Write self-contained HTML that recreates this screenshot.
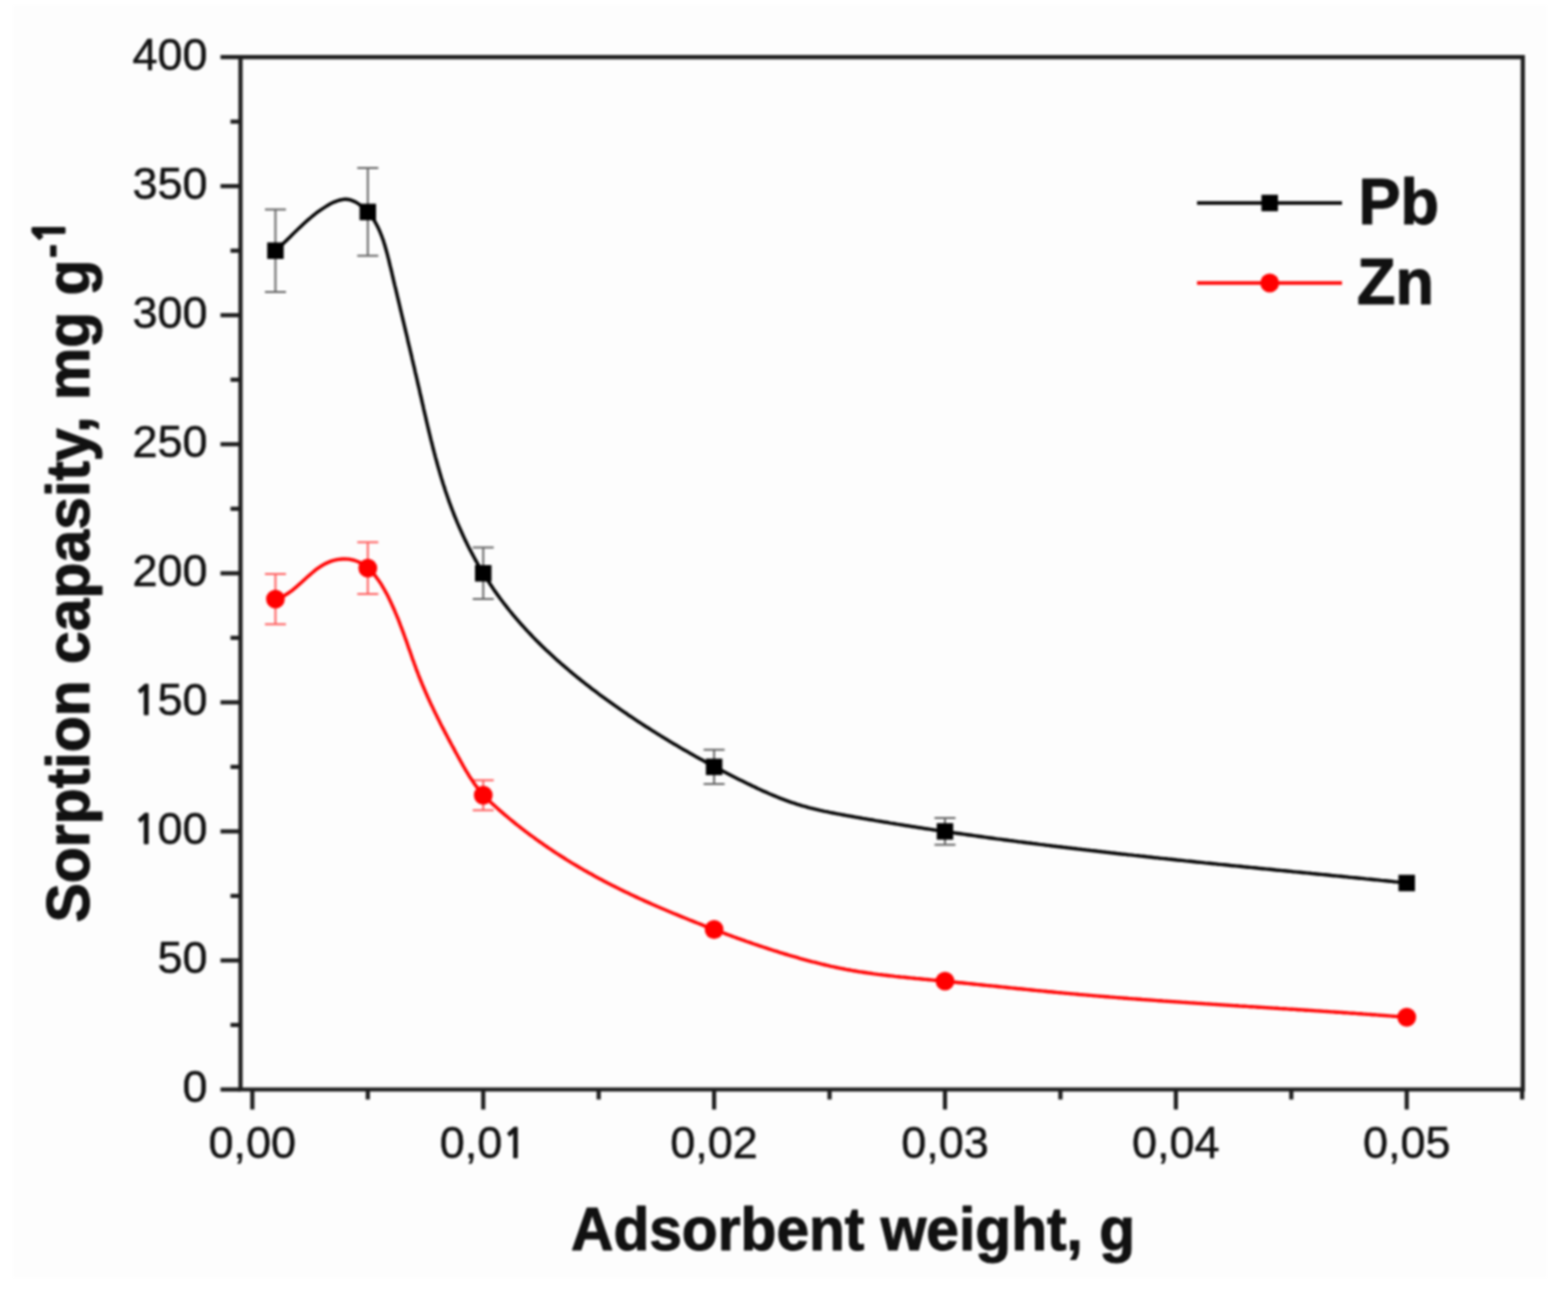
<!DOCTYPE html><html><head><meta charset="utf-8"><style>
html,body{margin:0;padding:0;background:#fff;}
svg{display:block;}
text{font-family:"Liberation Sans",Arial,sans-serif;}
</style></head><body>
<svg width="1568" height="1304" viewBox="0 0 1568 1304">
<defs><filter id="soft" x="0" y="0" width="1568" height="1304" filterUnits="userSpaceOnUse" color-interpolation-filters="sRGB"><feGaussianBlur stdDeviation="1.0"/></filter></defs>
<rect x="0" y="0" width="1568" height="1304" fill="#ffffff"/>
<g filter="url(#soft)">
<rect x="13" y="5" width="1534" height="1273" fill="#fdfdfd"/>
<g stroke="#1e1e1e" stroke-width="4.2" fill="none" stroke-linecap="butt">
<path d="M240.50,57.10 H1522.80 V1089.50 H240.50 Z" stroke-linejoin="miter"/>
<path d="M240.50,1089.50 H220.50"/>
<path d="M240.50,1024.97 H230.50"/>
<path d="M240.50,960.45 H220.50"/>
<path d="M240.50,895.92 H230.50"/>
<path d="M240.50,831.40 H220.50"/>
<path d="M240.50,766.88 H230.50"/>
<path d="M240.50,702.35 H220.50"/>
<path d="M240.50,637.83 H230.50"/>
<path d="M240.50,573.30 H220.50"/>
<path d="M240.50,508.77 H230.50"/>
<path d="M240.50,444.25 H220.50"/>
<path d="M240.50,379.73 H230.50"/>
<path d="M240.50,315.20 H220.50"/>
<path d="M240.50,250.68 H230.50"/>
<path d="M240.50,186.15 H220.50"/>
<path d="M240.50,121.62 H230.50"/>
<path d="M240.50,57.10 H220.50"/>
<path d="M252.36,1089.50 V1109.50"/>
<path d="M367.80,1089.50 V1099.50"/>
<path d="M483.24,1089.50 V1109.50"/>
<path d="M598.68,1089.50 V1099.50"/>
<path d="M714.11,1089.50 V1109.50"/>
<path d="M829.55,1089.50 V1099.50"/>
<path d="M944.99,1089.50 V1109.50"/>
<path d="M1060.43,1089.50 V1099.50"/>
<path d="M1175.87,1089.50 V1109.50"/>
<path d="M1291.31,1089.50 V1099.50"/>
<path d="M1406.74,1089.50 V1109.50"/>
<path d="M1522.18,1089.50 V1099.50"/>
</g>
<g font-size="45" fill="#111" stroke="#111" stroke-width="0.5" stroke-linejoin="round">
<text x="207.50" y="1102.30" text-anchor="end">0</text>
<text x="207.50" y="973.25" text-anchor="end">50</text>
<text x="207.50" y="844.20" text-anchor="end"><tspan font-family="NanumGothic, Liberation Sans, sans-serif" font-weight="700" font-size="40.5">1</tspan>00</text>
<text x="207.50" y="715.15" text-anchor="end"><tspan font-family="NanumGothic, Liberation Sans, sans-serif" font-weight="700" font-size="40.5">1</tspan>50</text>
<text x="207.50" y="586.10" text-anchor="end">200</text>
<text x="207.50" y="457.05" text-anchor="end">250</text>
<text x="207.50" y="328.00" text-anchor="end">300</text>
<text x="207.50" y="198.95" text-anchor="end">350</text>
<text x="207.50" y="69.90" text-anchor="end">400</text>
<text x="252.36" y="1158.00" text-anchor="middle">0,00</text>
<text x="483.24" y="1158.00" text-anchor="middle">0,0<tspan font-family="NanumGothic, Liberation Sans, sans-serif" font-weight="700" font-size="40.5">1</tspan></text>
<text x="714.11" y="1158.00" text-anchor="middle">0,02</text>
<text x="944.99" y="1158.00" text-anchor="middle">0,03</text>
<text x="1175.87" y="1158.00" text-anchor="middle">0,04</text>
<text x="1406.74" y="1158.00" text-anchor="middle">0,05</text>
</g>
<text transform="translate(571.00,1250.00) scale(1,1.04)" font-size="58" font-weight="bold" fill="#111" stroke="#111" stroke-width="1.0" stroke-linejoin="round" textLength="564" lengthAdjust="spacingAndGlyphs">Adsorbent weight, g</text>
<text transform="translate(89.00,922.40) rotate(-90) scale(1,1.04)" font-size="58" font-weight="bold" fill="#111" stroke="#111" stroke-width="1.0" stroke-linejoin="round" textLength="663" lengthAdjust="spacingAndGlyphs">Sorption capasity, mg g</text>
<text transform="translate(65.00,258.00) rotate(-90) scale(1,1.04)" font-size="42" font-weight="bold" fill="#111" stroke="#111" stroke-width="1.0" stroke-linejoin="round">-<tspan font-family="NanumGothic, Liberation Sans, sans-serif" font-weight="800" dx="0">1</tspan></text>
<path d="M275.45,209.38 V291.97 M264.95,209.38 H285.95 M264.95,291.97 H285.95 M367.80,168.08 V255.84 M357.30,168.08 H378.30 M357.30,255.84 H378.30 M483.24,547.49 V599.11 M472.74,547.49 H493.74 M472.74,599.11 H493.74 M714.11,749.84 V783.91 M703.61,749.84 H724.61 M703.61,783.91 H724.61 M944.99,817.98 V844.82 M934.49,817.98 H955.49 M934.49,844.82 H955.49" stroke="#666" stroke-width="2" fill="none"/>
<path d="M275.45,574.07 V624.15 M264.95,574.07 H285.95 M264.95,624.15 H285.95 M367.80,542.33 V593.95 M357.30,542.33 H378.30 M357.30,593.95 H378.30 M483.24,780.30 V810.24 M472.74,780.30 H493.74 M472.74,810.24 H493.74" stroke="#ff6060" stroke-width="2" fill="none"/>
<path d="M275.4,250.7 L277.0,249.2 L278.6,247.8 L280.2,246.4 L281.7,244.9 L283.3,243.4 L284.8,242.0 L286.4,240.5 L287.9,239.0 L289.5,237.5 L291.0,236.0 L292.5,234.4 L294.1,232.9 L295.6,231.4 L297.2,229.9 L298.7,228.4 L300.3,226.9 L301.9,225.4 L303.4,224.0 L305.1,222.5 L306.7,221.0 L308.3,219.6 L310.0,218.2 L311.7,216.8 L313.4,215.4 L315.1,214.0 L316.8,212.7 L318.6,211.4 L320.4,210.1 L322.3,208.8 L324.2,207.6 L326.1,206.4 L328.0,205.2 L330.0,204.1 L332.0,203.1 L334.0,202.1 L336.1,201.3 L338.1,200.5 L340.2,200.0 L342.2,199.6 L344.3,199.3 L346.3,199.3 L348.3,199.5 L350.3,199.9 L352.2,200.6 L354.1,201.4 L356.0,202.3 L357.8,203.4 L359.5,204.6 L361.2,205.8 L362.8,207.1 L364.3,208.5 L365.8,209.9 L367.3,211.3 L368.6,212.9 L369.9,214.4 L371.2,216.0 L372.4,217.7 L373.5,219.4 L374.6,221.1 L375.6,222.9 L376.6,224.7 L377.6,226.6 L378.5,228.5 L379.4,230.4 L380.2,232.4 L381.0,234.3 L381.8,236.3 L382.5,238.4 L383.3,240.4 L383.9,242.5 L384.6,244.6 L385.2,246.7 L385.8,248.8 L386.4,251.0 L387.0,253.1 L387.6,255.3 L388.1,257.4 L388.7,259.6 L389.2,261.8 L389.7,264.0 L390.2,266.2 L390.8,268.3 L391.3,270.5 L391.8,272.7 L392.3,274.8 L392.8,277.0 L393.3,279.1 L393.8,281.3 L394.3,283.4 L394.8,285.6 L395.4,287.7 L395.9,289.9 L396.4,292.0 L396.9,294.1 L397.4,296.3 L397.9,298.4 L398.4,300.5 L398.9,302.6 L399.4,304.7 L399.9,306.9 L400.4,309.0 L400.9,311.1 L401.4,313.2 L401.9,315.3 L402.4,317.4 L402.9,319.5 L403.4,321.6 L403.9,323.7 L404.4,325.8 L404.9,327.9 L405.4,330.0 L405.9,332.1 L406.4,334.1 L406.9,336.2 L407.4,338.3 L407.8,340.4 L408.3,342.5 L408.8,344.6 L409.3,346.6 L409.8,348.7 L410.3,350.8 L410.8,352.9 L411.3,355.0 L411.8,357.0 L412.2,359.1 L412.7,361.2 L413.2,363.3 L413.7,365.3 L414.2,367.4 L414.7,369.5 L415.1,371.6 L415.6,373.6 L416.1,375.7 L416.6,377.8 L417.1,379.9 L417.5,382.0 L418.0,384.0 L418.5,386.1 L419.0,388.2 L419.5,390.3 L419.9,392.4 L420.4,394.5 L420.9,396.5 L421.4,398.6 L421.8,400.7 L422.3,402.8 L422.8,404.9 L423.3,407.0 L423.7,409.1 L424.2,411.2 L424.7,413.3 L425.2,415.3 L425.7,417.4 L426.1,419.5 L426.6,421.6 L427.1,423.7 L427.6,425.8 L428.1,427.9 L428.6,430.0 L429.1,432.1 L429.6,434.2 L430.1,436.2 L430.6,438.3 L431.1,440.4 L431.7,442.5 L432.2,444.6 L432.7,446.7 L433.2,448.8 L433.8,450.9 L434.3,452.9 L434.9,455.0 L435.4,457.1 L436.0,459.2 L436.6,461.3 L437.1,463.3 L437.7,465.4 L438.3,467.5 L438.9,469.5 L439.5,471.6 L440.1,473.7 L440.7,475.8 L441.3,477.8 L442.0,479.9 L442.6,481.9 L443.2,484.0 L443.9,486.0 L444.6,488.1 L445.2,490.2 L445.9,492.2 L446.6,494.2 L447.3,496.3 L448.0,498.3 L448.7,500.4 L449.4,502.4 L450.2,504.4 L450.9,506.5 L451.7,508.5 L452.5,510.5 L453.2,512.5 L454.0,514.5 L454.8,516.5 L455.7,518.6 L456.5,520.6 L457.3,522.6 L458.2,524.6 L459.0,526.5 L459.9,528.5 L460.8,530.5 L461.7,532.5 L462.6,534.5 L463.5,536.4 L464.4,538.4 L465.3,540.4 L466.3,542.3 L467.2,544.3 L468.2,546.2 L469.2,548.2 L470.2,550.1 L471.2,552.0 L472.2,553.9 L473.2,555.8 L474.3,557.8 L475.3,559.7 L476.4,561.5 L477.4,563.4 L478.5,565.3 L479.6,567.2 L480.7,569.1 L481.8,570.9 L482.9,572.8 L484.1,574.6 L485.2,576.5 L486.4,578.3 L487.5,580.1 L488.7,581.9 L489.9,583.7 L491.1,585.5 L492.3,587.3 L493.5,589.1 L494.7,590.9 L496.0,592.6 L497.2,594.4 L498.5,596.1 L499.8,597.9 L501.0,599.6 L502.3,601.3 L503.6,603.0 L504.9,604.7 L506.3,606.4 L507.6,608.1 L508.9,609.8 L510.3,611.5 L511.7,613.1 L513.0,614.8 L514.4,616.4 L515.8,618.1 L517.2,619.7 L518.6,621.3 L520.0,622.9 L521.4,624.5 L522.9,626.1 L524.3,627.7 L525.8,629.3 L527.2,630.9 L528.7,632.4 L530.2,634.0 L531.6,635.5 L533.1,637.1 L534.6,638.6 L536.1,640.2 L537.7,641.7 L539.2,643.2 L540.7,644.7 L542.2,646.2 L543.8,647.7 L545.3,649.2 L546.9,650.7 L548.5,652.1 L550.0,653.6 L551.6,655.1 L553.2,656.5 L554.8,658.0 L556.4,659.4 L558.0,660.9 L559.6,662.3 L561.2,663.7 L562.9,665.1 L564.5,666.5 L566.1,667.9 L567.8,669.3 L569.4,670.7 L571.1,672.1 L572.7,673.5 L574.4,674.9 L576.1,676.2 L577.7,677.6 L579.4,678.9 L581.1,680.3 L582.8,681.6 L584.5,683.0 L586.2,684.3 L587.9,685.6 L589.6,686.9 L591.3,688.3 L593.0,689.6 L594.8,690.9 L596.5,692.2 L598.2,693.5 L599.9,694.8 L601.7,696.1 L603.4,697.3 L605.2,698.6 L606.9,699.9 L608.7,701.1 L610.4,702.4 L612.2,703.7 L613.9,704.9 L615.7,706.2 L617.5,707.4 L619.2,708.6 L621.0,709.9 L622.8,711.1 L624.6,712.3 L626.4,713.5 L628.1,714.8 L629.9,716.0 L631.7,717.2 L633.5,718.4 L635.3,719.6 L637.1,720.8 L638.9,722.0 L640.7,723.1 L642.5,724.3 L644.3,725.5 L646.1,726.7 L648.0,727.8 L649.8,729.0 L651.6,730.1 L653.4,731.3 L655.2,732.4 L657.1,733.6 L658.9,734.7 L660.7,735.9 L662.6,737.0 L664.4,738.1 L666.3,739.3 L668.1,740.4 L669.9,741.5 L671.8,742.6 L673.6,743.7 L675.5,744.8 L677.4,745.9 L679.2,747.0 L681.1,748.1 L682.9,749.2 L684.8,750.3 L686.7,751.3 L688.6,752.4 L690.4,753.5 L692.3,754.5 L694.2,755.6 L696.1,756.7 L698.0,757.7 L699.8,758.8 L701.7,759.8 L703.6,760.8 L705.5,761.9 L707.4,762.9 L709.3,763.9 L711.2,765.0 L713.1,766.0 L715.0,767.0 L716.9,768.0 L718.8,769.0 L720.7,770.0 L722.6,771.0 L724.6,772.0 L726.5,773.0 L728.4,774.0 L730.3,775.0 L732.2,776.0 L734.2,777.0 L736.1,777.9 L738.0,778.9 L740.0,779.9 L741.9,780.8 L743.8,781.8 L745.8,782.8 L747.7,783.7 L749.7,784.6 L751.6,785.6 L753.6,786.5 L755.5,787.4 L757.5,788.4 L759.4,789.3 L761.4,790.2 L763.3,791.1 L765.3,791.9 L767.3,792.8 L769.3,793.7 L771.2,794.5 L773.2,795.4 L775.2,796.2 L777.2,797.0 L779.2,797.8 L781.2,798.6 L783.2,799.3 L785.2,800.1 L787.2,800.8 L789.3,801.6 L791.3,802.3 L793.3,803.0 L795.4,803.6 L797.4,804.3 L799.5,804.9 L801.5,805.6 L803.6,806.2 L805.7,806.7 L807.7,807.3 L809.8,807.9 L811.9,808.4 L814.0,808.9 L816.1,809.4 L818.2,809.9 L820.3,810.4 L822.4,810.8 L824.5,811.3 L826.6,811.7 L828.7,812.2 L830.8,812.6 L833.0,813.0 L835.1,813.4 L837.2,813.8 L839.3,814.2 L841.4,814.6 L843.6,815.0 L845.7,815.4 L847.8,815.8 L850.0,816.1 L852.1,816.5 L854.2,816.9 L856.3,817.3 L858.5,817.6 L860.6,818.0 L862.7,818.4 L864.9,818.7 L867.0,819.1 L869.1,819.5 L871.3,819.8 L873.4,820.2 L875.5,820.6 L877.6,820.9 L879.8,821.3 L881.9,821.6 L884.0,822.0 L886.2,822.3 L888.3,822.7 L890.4,823.1 L892.6,823.4 L894.7,823.7 L896.8,824.1 L898.9,824.4 L901.1,824.8 L903.2,825.1 L905.3,825.5 L907.5,825.8 L909.6,826.1 L911.7,826.5 L913.9,826.8 L916.0,827.1 L918.1,827.5 L920.3,827.8 L922.4,828.1 L924.5,828.5 L926.7,828.8 L928.8,829.1 L930.9,829.4 L933.1,829.8 L935.2,830.1 L937.3,830.4 L939.5,830.7 L941.6,831.0 L943.7,831.3 L945.9,831.7 L948.0,832.0 L950.1,832.3 L952.3,832.6 L954.4,832.9 L956.5,833.2 L958.7,833.5 L960.8,833.8 L962.9,834.1 L965.1,834.4 L967.2,834.7 L969.3,835.0 L971.5,835.3 L973.6,835.6 L975.7,835.9 L977.9,836.2 L980.0,836.5 L982.1,836.8 L984.3,837.1 L986.4,837.4 L988.6,837.7 L990.7,838.0 L992.8,838.3 L995.0,838.6 L997.1,838.9 L999.2,839.1 L1001.4,839.4 L1003.5,839.7 L1005.6,840.0 L1007.8,840.3 L1009.9,840.6 L1012.1,840.8 L1014.2,841.1 L1016.3,841.4 L1018.5,841.7 L1020.6,841.9 L1022.8,842.2 L1024.9,842.5 L1027.0,842.8 L1029.2,843.0 L1031.3,843.3 L1033.5,843.6 L1035.6,843.8 L1037.7,844.1 L1039.9,844.4 L1042.0,844.6 L1044.1,844.9 L1046.3,845.2 L1048.4,845.4 L1050.6,845.7 L1052.7,846.0 L1054.9,846.2 L1057.0,846.5 L1059.1,846.7 L1061.3,847.0 L1063.4,847.3 L1065.6,847.5 L1067.7,847.8 L1069.8,848.0 L1072.0,848.3 L1074.1,848.5 L1076.3,848.8 L1078.4,849.1 L1080.6,849.3 L1082.7,849.6 L1084.8,849.8 L1087.0,850.1 L1089.1,850.3 L1091.3,850.6 L1093.4,850.8 L1095.6,851.0 L1097.7,851.3 L1099.8,851.5 L1102.0,851.8 L1104.1,852.0 L1106.3,852.3 L1108.4,852.5 L1110.6,852.8 L1112.7,853.0 L1114.9,853.2 L1117.0,853.5 L1119.1,853.7 L1121.3,854.0 L1123.4,854.2 L1125.6,854.4 L1127.7,854.7 L1129.9,854.9 L1132.0,855.1 L1134.2,855.4 L1136.3,855.6 L1138.4,855.8 L1140.6,856.1 L1142.7,856.3 L1144.9,856.5 L1147.0,856.8 L1149.2,857.0 L1151.3,857.2 L1153.5,857.5 L1155.6,857.7 L1157.8,857.9 L1159.9,858.2 L1162.0,858.4 L1164.2,858.6 L1166.3,858.8 L1168.5,859.1 L1170.6,859.3 L1172.8,859.5 L1174.9,859.7 L1177.1,860.0 L1179.2,860.2 L1181.4,860.4 L1183.5,860.6 L1185.7,860.9 L1187.8,861.1 L1190.0,861.3 L1192.1,861.5 L1194.2,861.7 L1196.4,862.0 L1198.5,862.2 L1200.7,862.4 L1202.8,862.6 L1205.0,862.9 L1207.1,863.1 L1209.3,863.3 L1211.4,863.5 L1213.6,863.7 L1215.7,863.9 L1217.9,864.2 L1220.0,864.4 L1222.2,864.6 L1224.3,864.8 L1226.5,865.0 L1228.6,865.2 L1230.7,865.5 L1232.9,865.7 L1235.0,865.9 L1237.2,866.1 L1239.3,866.3 L1241.5,866.5 L1243.6,866.8 L1245.8,867.0 L1247.9,867.2 L1250.1,867.4 L1252.2,867.6 L1254.4,867.8 L1256.5,868.0 L1258.7,868.3 L1260.8,868.5 L1263.0,868.7 L1265.1,868.9 L1267.3,869.1 L1269.4,869.3 L1271.6,869.5 L1273.7,869.7 L1275.8,870.0 L1278.0,870.2 L1280.1,870.4 L1282.3,870.6 L1284.4,870.8 L1286.6,871.0 L1288.7,871.2 L1290.9,871.4 L1293.0,871.7 L1295.2,871.9 L1297.3,872.1 L1299.5,872.3 L1301.6,872.5 L1303.8,872.7 L1305.9,872.9 L1308.1,873.1 L1310.2,873.3 L1312.3,873.6 L1314.5,873.8 L1316.6,874.0 L1318.8,874.2 L1320.9,874.4 L1323.1,874.6 L1325.2,874.8 L1327.4,875.0 L1329.5,875.2 L1331.7,875.5 L1333.8,875.7 L1336.0,875.9 L1338.1,876.1 L1340.3,876.3 L1342.4,876.5 L1344.5,876.7 L1346.7,876.9 L1348.8,877.2 L1351.0,877.4 L1353.1,877.6 L1355.3,877.8 L1357.4,878.0 L1359.6,878.2 L1361.7,878.4 L1363.9,878.6 L1366.0,878.9 L1368.1,879.1 L1370.3,879.3 L1372.4,879.5 L1374.6,879.7 L1376.7,879.9 L1378.9,880.1 L1381.0,880.4 L1383.2,880.6 L1385.3,880.8 L1387.5,881.0 L1389.6,881.2 L1391.7,881.4 L1393.9,881.7 L1396.0,881.9 L1398.2,882.1 L1400.3,882.3 L1402.5,882.5 L1404.6,882.7 L1406.7,883.0" stroke="#000" stroke-width="3.4" fill="none"/>
<path d="M275.5,599.1 L277.2,598.7 L278.9,598.1 L280.5,597.5 L282.1,596.7 L283.8,595.9 L285.3,595.0 L286.9,594.0 L288.5,593.0 L290.0,591.9 L291.6,590.8 L293.1,589.6 L294.6,588.3 L296.1,587.1 L297.6,585.8 L299.2,584.4 L300.7,583.1 L302.2,581.7 L303.7,580.3 L305.2,578.9 L306.7,577.6 L308.2,576.2 L309.8,574.9 L311.3,573.5 L312.9,572.2 L314.4,570.9 L316.0,569.7 L317.6,568.5 L319.2,567.4 L320.9,566.3 L322.5,565.3 L324.2,564.3 L325.9,563.4 L327.7,562.6 L329.4,561.9 L331.2,561.2 L333.0,560.6 L334.8,560.1 L336.7,559.7 L338.5,559.4 L340.3,559.2 L342.2,559.0 L344.0,559.0 L345.8,559.0 L347.6,559.1 L349.4,559.3 L351.1,559.6 L352.8,560.0 L354.5,560.4 L356.1,561.0 L357.8,561.6 L359.3,562.3 L360.9,563.1 L362.4,564.0 L363.9,565.0 L365.3,566.0 L366.7,567.1 L368.1,568.2 L369.4,569.5 L370.7,570.7 L372.0,572.1 L373.3,573.5 L374.5,574.9 L375.7,576.4 L376.8,577.9 L378.0,579.5 L379.1,581.1 L380.2,582.7 L381.3,584.4 L382.3,586.1 L383.3,587.8 L384.3,589.5 L385.3,591.3 L386.3,593.1 L387.2,594.8 L388.1,596.6 L389.0,598.4 L389.9,600.3 L390.7,602.1 L391.6,603.9 L392.4,605.7 L393.2,607.5 L394.0,609.3 L394.8,611.1 L395.5,612.9 L396.3,614.6 L397.0,616.4 L397.8,618.2 L398.5,620.0 L399.2,621.8 L399.9,623.6 L400.5,625.3 L401.2,627.1 L401.9,628.9 L402.5,630.7 L403.2,632.4 L403.8,634.2 L404.5,636.0 L405.1,637.7 L405.7,639.5 L406.4,641.2 L407.0,643.0 L407.6,644.8 L408.2,646.5 L408.8,648.3 L409.5,650.0 L410.1,651.8 L410.7,653.5 L411.3,655.3 L411.9,657.0 L412.5,658.8 L413.2,660.5 L413.8,662.3 L414.4,664.0 L415.1,665.8 L415.7,667.5 L416.3,669.3 L417.0,671.0 L417.7,672.8 L418.3,674.5 L419.0,676.3 L419.7,678.0 L420.4,679.8 L421.1,681.5 L421.8,683.2 L422.5,685.0 L423.3,686.7 L424.0,688.5 L424.8,690.2 L425.5,692.0 L426.3,693.7 L427.1,695.5 L427.8,697.2 L428.6,698.9 L429.4,700.7 L430.2,702.4 L431.0,704.2 L431.9,705.9 L432.7,707.6 L433.5,709.4 L434.3,711.1 L435.2,712.9 L436.0,714.6 L436.9,716.3 L437.7,718.1 L438.6,719.8 L439.5,721.5 L440.3,723.2 L441.2,725.0 L442.1,726.7 L443.0,728.4 L443.9,730.1 L444.8,731.9 L445.7,733.6 L446.6,735.3 L447.5,737.0 L448.4,738.7 L449.3,740.4 L450.2,742.1 L451.1,743.8 L452.0,745.5 L453.0,747.2 L453.9,748.9 L454.8,750.6 L455.7,752.3 L456.7,754.0 L457.6,755.7 L458.5,757.4 L459.5,759.1 L460.4,760.8 L461.3,762.5 L462.3,764.1 L463.2,765.8 L464.2,767.5 L465.1,769.1 L466.1,770.8 L467.1,772.4 L468.0,774.0 L469.0,775.6 L470.0,777.3 L471.1,778.8 L472.1,780.4 L473.2,782.0 L474.2,783.5 L475.3,785.1 L476.5,786.6 L477.6,788.1 L478.8,789.6 L480.0,791.0 L481.2,792.5 L482.4,793.9 L483.7,795.3 L485.0,796.6 L486.3,798.0 L487.6,799.3 L489.0,800.6 L490.4,801.9 L491.8,803.2 L493.2,804.5 L494.6,805.8 L496.0,807.1 L497.4,808.3 L498.8,809.6 L500.3,810.8 L501.7,812.1 L503.2,813.3 L504.6,814.6 L506.1,815.8 L507.5,817.0 L509.0,818.3 L510.5,819.5 L511.9,820.7 L513.4,821.9 L514.9,823.1 L516.4,824.3 L517.9,825.5 L519.4,826.6 L520.9,827.8 L522.4,829.0 L523.9,830.2 L525.4,831.3 L527.0,832.5 L528.5,833.6 L530.0,834.8 L531.6,835.9 L533.1,837.0 L534.7,838.2 L536.2,839.3 L537.8,840.4 L539.3,841.5 L540.9,842.6 L542.5,843.7 L544.0,844.8 L545.6,845.9 L547.2,847.0 L548.8,848.1 L550.4,849.1 L551.9,850.2 L553.5,851.3 L555.1,852.3 L556.7,853.4 L558.3,854.4 L560.0,855.5 L561.6,856.5 L563.2,857.5 L564.8,858.5 L566.4,859.6 L568.1,860.6 L569.7,861.6 L571.3,862.6 L573.0,863.6 L574.6,864.6 L576.2,865.5 L577.9,866.5 L579.5,867.5 L581.2,868.4 L582.8,869.4 L584.5,870.4 L586.2,871.3 L587.8,872.3 L589.5,873.2 L591.2,874.1 L592.8,875.0 L594.5,876.0 L596.2,876.9 L597.8,877.8 L599.5,878.7 L601.2,879.6 L602.9,880.5 L604.6,881.4 L606.3,882.3 L608.0,883.2 L609.7,884.0 L611.4,884.9 L613.1,885.8 L614.8,886.6 L616.5,887.5 L618.2,888.3 L619.9,889.2 L621.6,890.0 L623.3,890.9 L625.0,891.7 L626.7,892.5 L628.5,893.3 L630.2,894.2 L631.9,895.0 L633.6,895.8 L635.3,896.6 L637.1,897.4 L638.8,898.2 L640.5,899.0 L642.3,899.8 L644.0,900.6 L645.7,901.4 L647.5,902.1 L649.2,902.9 L651.0,903.7 L652.7,904.5 L654.5,905.2 L656.2,906.0 L657.9,906.8 L659.7,907.5 L661.4,908.3 L663.2,909.0 L665.0,909.8 L666.7,910.5 L668.5,911.3 L670.2,912.0 L672.0,912.7 L673.7,913.5 L675.5,914.2 L677.3,914.9 L679.0,915.6 L680.8,916.4 L682.6,917.1 L684.3,917.8 L686.1,918.5 L687.9,919.2 L689.6,920.0 L691.4,920.7 L693.2,921.4 L695.0,922.1 L696.7,922.8 L698.5,923.5 L700.3,924.2 L702.1,924.9 L703.8,925.6 L705.6,926.3 L707.4,926.9 L709.2,927.6 L711.0,928.3 L712.7,929.0 L714.5,929.7 L716.3,930.4 L718.1,931.0 L719.9,931.7 L721.7,932.4 L723.4,933.0 L725.2,933.7 L727.0,934.4 L728.8,935.0 L730.6,935.7 L732.4,936.3 L734.2,937.0 L736.0,937.6 L737.8,938.3 L739.6,938.9 L741.4,939.6 L743.2,940.2 L745.0,940.8 L746.8,941.5 L748.6,942.1 L750.4,942.7 L752.2,943.4 L754.0,944.0 L755.8,944.6 L757.6,945.2 L759.4,945.8 L761.2,946.4 L763.1,947.0 L764.9,947.6 L766.7,948.2 L768.5,948.8 L770.3,949.4 L772.1,950.0 L774.0,950.6 L775.8,951.1 L777.6,951.7 L779.4,952.3 L781.2,952.8 L783.1,953.4 L784.9,954.0 L786.7,954.5 L788.6,955.1 L790.4,955.6 L792.2,956.2 L794.1,956.7 L795.9,957.2 L797.7,957.7 L799.6,958.3 L801.4,958.8 L803.2,959.3 L805.1,959.8 L806.9,960.3 L808.8,960.8 L810.6,961.3 L812.5,961.8 L814.3,962.2 L816.2,962.7 L818.0,963.2 L819.9,963.6 L821.7,964.1 L823.6,964.5 L825.4,965.0 L827.3,965.4 L829.2,965.8 L831.0,966.3 L832.9,966.7 L834.7,967.1 L836.6,967.5 L838.5,967.9 L840.3,968.3 L842.2,968.6 L844.1,969.0 L845.9,969.4 L847.8,969.7 L849.7,970.0 L851.6,970.4 L853.4,970.7 L855.3,971.0 L857.2,971.3 L859.1,971.7 L860.9,971.9 L862.8,972.2 L864.7,972.5 L866.6,972.8 L868.5,973.1 L870.4,973.3 L872.3,973.6 L874.1,973.9 L876.0,974.1 L877.9,974.4 L879.8,974.6 L881.7,974.8 L883.6,975.1 L885.5,975.3 L887.4,975.5 L889.3,975.7 L891.2,975.9 L893.1,976.1 L895.0,976.4 L896.8,976.6 L898.7,976.8 L900.6,977.0 L902.5,977.1 L904.4,977.3 L906.3,977.5 L908.2,977.7 L910.1,977.9 L912.0,978.1 L913.9,978.3 L915.8,978.5 L917.7,978.6 L919.6,978.8 L921.5,979.0 L923.4,979.2 L925.3,979.4 L927.2,979.5 L929.1,979.7 L931.0,979.9 L932.9,980.1 L934.8,980.2 L936.7,980.4 L938.6,980.6 L940.5,980.8 L942.4,981.0 L944.3,981.2 L946.2,981.3 L948.1,981.5 L950.0,981.7 L951.9,981.9 L953.8,982.1 L955.7,982.3 L957.6,982.5 L959.5,982.7 L961.4,982.8 L963.3,983.0 L965.2,983.2 L967.1,983.4 L969.0,983.6 L970.9,983.8 L972.8,984.0 L974.7,984.2 L976.6,984.4 L978.5,984.6 L980.4,984.8 L982.3,985.0 L984.2,985.2 L986.1,985.4 L988.0,985.6 L989.9,985.7 L991.8,985.9 L993.7,986.1 L995.6,986.3 L997.5,986.5 L999.4,986.7 L1001.3,986.9 L1003.2,987.1 L1005.1,987.3 L1007.0,987.5 L1008.9,987.7 L1010.8,987.9 L1012.7,988.1 L1014.6,988.3 L1016.5,988.5 L1018.4,988.7 L1020.3,988.8 L1022.2,989.0 L1024.1,989.2 L1026.0,989.4 L1027.9,989.6 L1029.8,989.8 L1031.7,990.0 L1033.6,990.2 L1035.5,990.4 L1037.4,990.6 L1039.3,990.7 L1041.2,990.9 L1043.1,991.1 L1045.0,991.3 L1046.9,991.5 L1048.8,991.7 L1050.7,991.8 L1052.6,992.0 L1054.5,992.2 L1056.4,992.4 L1058.3,992.6 L1060.2,992.7 L1062.1,992.9 L1064.0,993.1 L1065.9,993.3 L1067.8,993.4 L1069.7,993.6 L1071.6,993.8 L1073.5,993.9 L1075.4,994.1 L1077.3,994.3 L1079.2,994.5 L1081.1,994.6 L1083.0,994.8 L1084.9,994.9 L1086.8,995.1 L1088.7,995.3 L1090.6,995.4 L1092.5,995.6 L1094.4,995.8 L1096.3,995.9 L1098.2,996.1 L1100.1,996.2 L1102.0,996.4 L1103.9,996.5 L1105.8,996.7 L1107.7,996.8 L1109.6,997.0 L1111.5,997.1 L1113.4,997.3 L1115.3,997.4 L1117.2,997.6 L1119.1,997.7 L1121.0,997.9 L1122.9,998.0 L1124.8,998.2 L1126.7,998.3 L1128.7,998.5 L1130.6,998.6 L1132.5,998.8 L1134.4,998.9 L1136.3,999.0 L1138.2,999.2 L1140.1,999.3 L1142.0,999.5 L1143.9,999.6 L1145.8,999.7 L1147.7,999.9 L1149.6,1000.0 L1151.5,1000.1 L1153.4,1000.3 L1155.3,1000.4 L1157.2,1000.6 L1159.1,1000.7 L1161.0,1000.8 L1162.9,1001.0 L1164.8,1001.1 L1166.7,1001.2 L1168.6,1001.4 L1170.5,1001.5 L1172.4,1001.6 L1174.4,1001.7 L1176.3,1001.9 L1178.2,1002.0 L1180.1,1002.1 L1182.0,1002.3 L1183.9,1002.4 L1185.8,1002.5 L1187.7,1002.6 L1189.6,1002.8 L1191.5,1002.9 L1193.4,1003.0 L1195.3,1003.1 L1197.2,1003.3 L1199.1,1003.4 L1201.0,1003.5 L1202.9,1003.6 L1204.8,1003.8 L1206.7,1003.9 L1208.6,1004.0 L1210.5,1004.1 L1212.5,1004.3 L1214.4,1004.4 L1216.3,1004.5 L1218.2,1004.6 L1220.1,1004.7 L1222.0,1004.9 L1223.9,1005.0 L1225.8,1005.1 L1227.7,1005.2 L1229.6,1005.4 L1231.5,1005.5 L1233.4,1005.6 L1235.3,1005.7 L1237.2,1005.8 L1239.1,1006.0 L1241.0,1006.1 L1242.9,1006.2 L1244.8,1006.3 L1246.8,1006.4 L1248.7,1006.6 L1250.6,1006.7 L1252.5,1006.8 L1254.4,1006.9 L1256.3,1007.0 L1258.2,1007.2 L1260.1,1007.3 L1262.0,1007.4 L1263.9,1007.5 L1265.8,1007.6 L1267.7,1007.7 L1269.6,1007.9 L1271.5,1008.0 L1273.4,1008.1 L1275.3,1008.2 L1277.2,1008.3 L1279.2,1008.5 L1281.1,1008.6 L1283.0,1008.7 L1284.9,1008.8 L1286.8,1008.9 L1288.7,1009.1 L1290.6,1009.2 L1292.5,1009.3 L1294.4,1009.4 L1296.3,1009.5 L1298.2,1009.7 L1300.1,1009.8 L1302.0,1009.9 L1303.9,1010.0 L1305.8,1010.2 L1307.7,1010.3 L1309.6,1010.4 L1311.5,1010.5 L1313.4,1010.6 L1315.4,1010.8 L1317.3,1010.9 L1319.2,1011.0 L1321.1,1011.1 L1323.0,1011.3 L1324.9,1011.4 L1326.8,1011.5 L1328.7,1011.6 L1330.6,1011.8 L1332.5,1011.9 L1334.4,1012.0 L1336.3,1012.2 L1338.2,1012.3 L1340.1,1012.4 L1342.0,1012.5 L1343.9,1012.7 L1345.8,1012.8 L1347.7,1012.9 L1349.6,1013.1 L1351.5,1013.2 L1353.4,1013.3 L1355.4,1013.4 L1357.3,1013.6 L1359.2,1013.7 L1361.1,1013.8 L1363.0,1014.0 L1364.9,1014.1 L1366.8,1014.3 L1368.7,1014.4 L1370.6,1014.5 L1372.5,1014.7 L1374.4,1014.8 L1376.3,1014.9 L1378.2,1015.1 L1380.1,1015.2 L1382.0,1015.4 L1383.9,1015.5 L1385.8,1015.6 L1387.7,1015.8 L1389.6,1015.9 L1391.5,1016.1 L1393.4,1016.2 L1395.3,1016.4 L1397.2,1016.5 L1399.1,1016.6 L1401.0,1016.8 L1402.9,1016.9 L1404.8,1017.1 L1406.7,1017.2" stroke="#ff0000" stroke-width="3.4" fill="none"/>
<rect x="267.20" y="242.43" width="16.5" height="16.5" fill="#000"/>
<rect x="359.55" y="203.71" width="16.5" height="16.5" fill="#000"/>
<rect x="474.99" y="565.05" width="16.5" height="16.5" fill="#000"/>
<rect x="705.86" y="758.62" width="16.5" height="16.5" fill="#000"/>
<rect x="936.74" y="823.15" width="16.5" height="16.5" fill="#000"/>
<rect x="1398.49" y="874.77" width="16.5" height="16.5" fill="#000"/>
<circle cx="275.45" cy="599.11" r="9.4" fill="#ff0000"/>
<circle cx="367.80" cy="568.14" r="9.4" fill="#ff0000"/>
<circle cx="483.24" cy="795.27" r="9.4" fill="#ff0000"/>
<circle cx="714.11" cy="929.48" r="9.4" fill="#ff0000"/>
<circle cx="944.99" cy="981.10" r="9.4" fill="#ff0000"/>
<circle cx="1406.74" cy="1017.23" r="9.4" fill="#ff0000"/>
<path d="M1197,203 H1342" stroke="#000" stroke-width="3.4"/>
<rect x="1261.45" y="194.75" width="16.5" height="16.5" fill="#000"/>
<path d="M1197,283 H1342" stroke="#ff0000" stroke-width="3.4"/>
<circle cx="1269.70" cy="283.00" r="9.4" fill="#ff0000"/>
<text transform="translate(1358.5,224) scale(1,1.03)" font-size="63" font-weight="bold" fill="#111" stroke="#111" stroke-width="1.0" stroke-linejoin="round">Pb</text>
<text transform="translate(1357,304) scale(1,1.03)" font-size="63" font-weight="bold" fill="#111" stroke="#111" stroke-width="1.0" stroke-linejoin="round">Zn</text>
</g>
</svg></body></html>
